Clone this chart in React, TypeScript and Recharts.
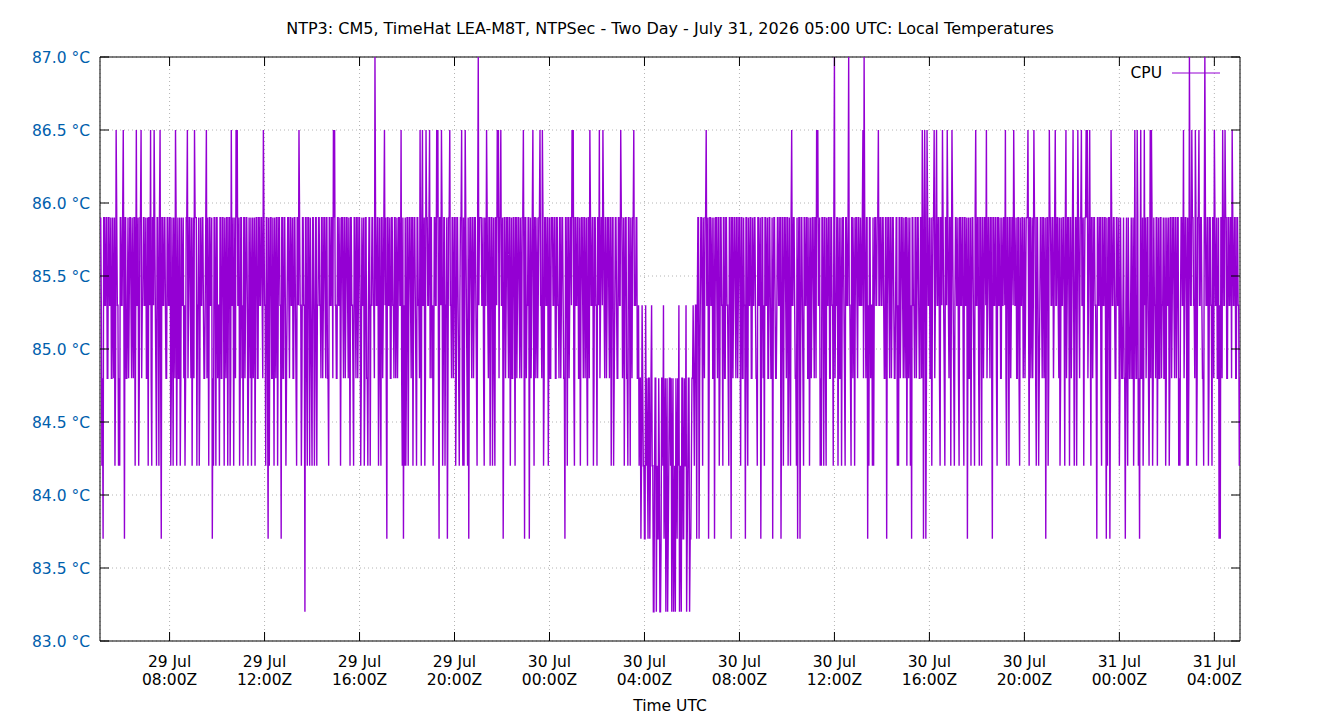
import { LineChart, Line, XAxis, YAxis, CartesianGrid, ReferenceArea } from "recharts";

const FONT = "'DejaVu Sans', sans-serif";
const FONT_SIZE = 15.5;
const CPU_COLOR = "#9400d3";
const TICK_BLUE = "#0060ad";

// Plot box in page pixels
const WIDTH = 1340;
const HEIGHT = 720;
const PLOT_LEFT = 100;
const PLOT_RIGHT = 1240;
const PLOT_TOP = 57;
const PLOT_BOTTOM = 641;
const TICK_LEN = 9;

// Hours since 29 Jul 00:00Z
const X_DOMAIN = [5.07, 53.08];
const TICK_HOURS = [8, 12, 16, 20, 24, 28, 32, 36, 40, 44, 48, 52];
const TICK_DAYS = ["29 Jul", "29 Jul", "29 Jul", "29 Jul", "30 Jul", "30 Jul", "30 Jul", "30 Jul", "30 Jul", "30 Jul", "31 Jul", "31 Jul"];
const TICK_TIMES = ["08:00Z", "12:00Z", "16:00Z", "20:00Z", "00:00Z", "04:00Z", "08:00Z", "12:00Z", "16:00Z", "20:00Z", "00:00Z", "04:00Z"];

const Y_TICKS = [83, 83.5, 84, 84.5, 85, 85.5, 86, 86.5, 87];

// Sensor reports in discrete steps; readings below are indexes into this list
const LEVELS = [83.2, 83.7, 84.2, 84.8, 85.3, 85.9, 86.5, 87.0];

// Readings on the 3-minute mark starting 05:06Z, 80 readings (4 h) per block
const FIRST_HOUR = 5.1;
const STEP_HOURS = 0.05;
const CPU_READINGS = [
  "5215453543" + "5326422546" + "1535453452" + "6425645453" + "2562564252" + "6154535452" + "5246253254" + "3256453256",
  "5242545346" + "5254125254" + "2535245252" + "6425664253" + "2545253254" + "2535454642" + "5125352452" + "5415352453",
  "5435425642" + "5405252425" + "2524545354" + "5325456643" + "5425453545" + "2542535452" + "5425325245" + "4745252546",
  "5154354354" + "3546212252" + "5452542546" + "2642654653" + "2546615625" + "2415645352" + "5425622642" + "1545354275",
  "5452464525" + "2525665641" + "5354525352" + "5453456154" + "5154625435" + "6462545253" + "5453543545" + "3152545662",
  "5453254535" + "2564525425" + "6456453545" + "2524535465" + "4253252456" + "4534314214" + "3132420301" + "3013420313",
  "2031023410" + "3124130134" + "2415145245" + "6415453154" + "5254253542" + "5154535452" + "5341524535" + "4532541532",
  "5435431543" + "5451525452" + "5264532151" + "5425453254" + "5356642252" + "5245354274" + "5253254254" + "7425425454",
  "5467451254" + "2254564545" + "3515453543" + "5225453452" + "5421545354" + "3561616453" + "2564645256" + "4256452642",
  "5452545254" + "1532542645" + "2525456453" + "5154525435" + "4562525456" + "4535245354" + "5625436525" + "2453541526",
  "5454645325" + "4526452546" + "2526456425" + "6646254541" + "5452545125" + "1645435425" + "3431524353" + "2636216326",
  "5452662545" + "2535453254" + "2535453522" + "5464522746" + "5462564532" + "7452542564" + "5311564653" + "5456453542",
];

// Readings taken 90 s after each of the above
const CPU_READINGS_HALF = [
  "4354535453" + "4535435454" + "5343545354" + "4535345435" + "5435453545" + "3545435453" + "4535435345" + "4353545435",
  "5453454353" + "4545354534" + "5354535453" + "4543545354" + "5354345435" + "4535453545" + "3545345354" + "5453543545",
  "4535354543" + "5453545354" + "3545435453" + "5354535435" + "4545354534" + "5435453543" + "4535345454" + "3545435354",
  "3545354535" + "4543545354" + "5354535434" + "5453545354" + "3545354535" + "4535435453" + "5345354535" + "4535453545",
  "5435453545" + "4354535453" + "5453543545" + "3545354534" + "5435453545" + "4353545435" + "5453545354" + "3545354535",
  "4535453543" + "5354535454" + "3545354535" + "4535435453" + "5453545354" + "4532323212" + "2313202321" + "2032132023",
  "3202312023" + "1320231233" + "3445354535" + "4535435453" + "5354535435" + "4535453545" + "3545354534" + "5435453545",
  "4535354534" + "5453545354" + "3545435453" + "5354535435" + "4535453545" + "3545354534" + "5435453545" + "4353545354",
  "4535354534" + "5454545454" + "3545354534" + "5453545354" + "3545435453" + "5354535435" + "4535453545" + "3545354534",
  "5435453545" + "4354535453" + "5453543545" + "3545354534" + "5435453545" + "4353545435" + "5453545354" + "3545354535",
  "4535454534" + "5453545354" + "4545354545" + "5354535435" + "4535453545" + "3545354534" + "3534353435" + "3435343534",
  "3534353435" + "4353435345" + "3545354534" + "5435453545" + "4353545435" + "5453545354" + "3545354535" + "4535453543",
];

const rows: { t: number; cpu: number }[] = [];
let n = 0;
CPU_READINGS.forEach((block, b) => {
  for (let k = 0; k < block.length; k++) {
    rows.push({ t: FIRST_HOUR + n * STEP_HOURS, cpu: LEVELS[Number(block[k])] });
    rows.push({ t: FIRST_HOUR + (n + 0.5) * STEP_HOURS, cpu: LEVELS[Number(CPU_READINGS_HALF[b][k])] });
    n++;
  }
});

function TimeTick(props: any) {
  const { x, payload } = props;
  const i = TICK_HOURS.indexOf(payload.value);
  return (
    <g>
      <line x1={x} x2={x} y1={PLOT_BOTTOM} y2={PLOT_BOTTOM - TICK_LEN} stroke="#000" />
      <line x1={x} x2={x} y1={PLOT_TOP} y2={PLOT_TOP + TICK_LEN} stroke="#000" />
      <text textAnchor="middle" fontFamily={FONT} fontSize={FONT_SIZE} fill="#000">
        <tspan x={x} y={667}>{TICK_DAYS[i]}</tspan>
        <tspan x={x} y={685}>{TICK_TIMES[i]}</tspan>
      </text>
    </g>
  );
}

function TempTick(props: any) {
  const { y, payload } = props;
  return (
    <g>
      <line x1={PLOT_LEFT} x2={PLOT_LEFT + TICK_LEN} y1={y} y2={y} stroke="#000" />
      <line x1={PLOT_RIGHT - TICK_LEN} x2={PLOT_RIGHT} y1={y} y2={y} stroke="#000" />
      <text x={PLOT_LEFT - 10} y={y + 5.5} textAnchor="end" fontFamily={FONT} fontSize={FONT_SIZE} fill={TICK_BLUE}>
        {payload.value.toFixed(1)} °C
      </text>
    </g>
  );
}

const textStyle = { fontFamily: FONT, fontSize: FONT_SIZE, lineHeight: "20px", color: "#000" };

export default function App() {
  return (
    <div style={{ position: "absolute", left: 0, top: 0, width: WIDTH, height: HEIGHT, background: "#fff" }}>
      <div style={{ ...textStyle, fontSize: 16, position: "absolute", top: 19, left: 0, width: WIDTH, textAlign: "center" }}>
        NTP3: CM5, TimeHat LEA-M8T, NTPSec - Two Day - July 31, 2026 05:00 UTC: Local Temperatures
      </div>
      <LineChart
        width={WIDTH}
        height={HEIGHT}
        data={rows}
        margin={{ top: PLOT_TOP, right: WIDTH - PLOT_RIGHT, bottom: 0, left: 0 }}
      >
        <CartesianGrid stroke="#b4b4b4" strokeDasharray="1 3" />
        <XAxis
          type="number"
          dataKey="t"
          domain={X_DOMAIN}
          ticks={TICK_HOURS}
          interval={0}
          allowDataOverflow
          axisLine={false}
          tickLine={false}
          height={HEIGHT - PLOT_BOTTOM}
          tick={<TimeTick />}
        />
        <YAxis
          type="number"
          domain={[83, 87]}
          ticks={Y_TICKS}
          interval={0}
          allowDataOverflow
          axisLine={false}
          tickLine={false}
          width={PLOT_LEFT}
          tick={<TempTick />}
        />
        <ReferenceArea x1={X_DOMAIN[0]} x2={X_DOMAIN[1]} y1={83} y2={87} fill="none" stroke="#000" strokeWidth={1} />
        <Line
          type="linear"
          dataKey="cpu"
          name="CPU"
          stroke={CPU_COLOR}
          strokeWidth={1.4}
          dot={false}
          activeDot={false}
          isAnimationActive={false}
        />
      </LineChart>
      {/* key */}
      <div style={{ ...textStyle, position: "absolute", top: 63, left: 1100, display: "flex", alignItems: "center" }}>
        <span style={{ width: 62, textAlign: "right" }}>CPU</span>
        <svg width={48} height={4} style={{ marginLeft: 10 }}>
          <line x1={0} x2={48} y1={2} y2={2} stroke={CPU_COLOR} strokeWidth={1} />
        </svg>
      </div>
      <div style={{ ...textStyle, position: "absolute", top: 696, left: 0, width: WIDTH, textAlign: "center" }}>
        Time UTC
      </div>
    </div>
  );
}
